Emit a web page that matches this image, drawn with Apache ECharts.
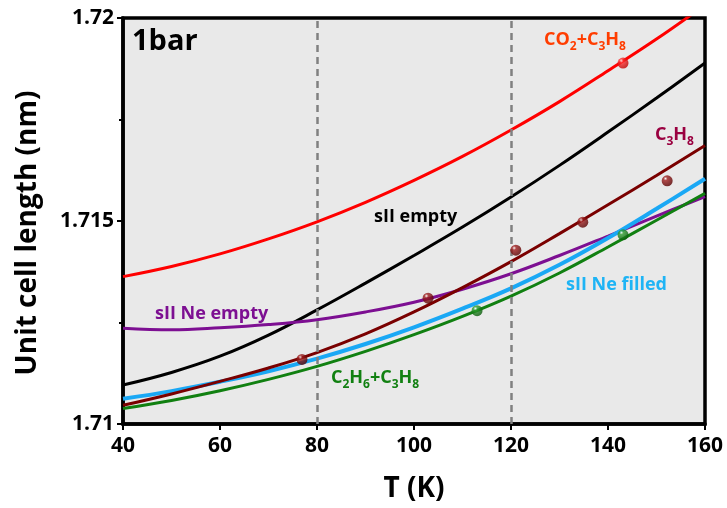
<!DOCTYPE html>
<html>
<head>
<meta charset="utf-8">
<script src="https://cdn.jsdelivr.net/npm/echarts@6/dist/echarts.min.js"></script>
<style>
  html, body { margin: 0; padding: 0; background: #fff; }
  #chart { width: 727px; height: 508px; }
</style>
</head>
<body>
<div id="chart"></div>
<script>
// temperatures (K) for the fitted curves
const T = [40, 50, 60, 70, 80, 90, 100, 110, 120, 130, 140, 150, 160]

// unit cell length (nm)
const co2C3h8 = [1.71363, 1.71388, 1.71419, 1.71456, 1.71498, 1.71546, 1.71600, 1.71659, 1.71724, 1.71794, 1.71870, 1.71948, 1.72032]
const sIIEmpty = [1.71096, 1.71127, 1.71167, 1.71219, 1.71281, 1.71347, 1.71415, 1.71485, 1.71559, 1.71637, 1.71719, 1.71803, 1.71889]
const c3h8 = [1.71046, 1.71074, 1.71105, 1.71138, 1.71176, 1.71222, 1.71276, 1.71336, 1.71400, 1.71469, 1.71540, 1.71612, 1.71686]
const neFilled = [1.71062, 1.71081, 1.71104, 1.71130, 1.71161, 1.71197, 1.71238, 1.71284, 1.71334, 1.71392, 1.71458, 1.71530, 1.71604]
const c2h6C3h8 = [1.71038, 1.71058, 1.71082, 1.71110, 1.71142, 1.71179, 1.71220, 1.71265, 1.71315, 1.71372, 1.71436, 1.71502, 1.71568]
const neEmpty = [1.71236, 1.71232, 1.71237, 1.71245, 1.71257, 1.71276, 1.71300, 1.71332, 1.71370, 1.71415, 1.71463, 1.71512, 1.71560]

// measured points
const c3h8PtsT = [76.9, 102.9, 121, 134.8, 152.2]
const c3h8PtsV = [1.71159, 1.7131, 1.71428, 1.71497, 1.71599]
const c2h6PtsT = [113, 143.1]
const c2h6PtsV = [1.71279, 1.71466]
const co2PtsT = [143.1]
const co2PtsV = [1.71889]

const guideT = [80, 120]
const yTicks = { '1.72': '1.72', '1.715': '1.715', '1.71': '1.71' }

const FONT = 'Open Sans'
const zip = (xs, ys) => xs.map((x, i) => [x, ys[i]])

const ball = (light, mid, dark) => new echarts.graphic.RadialGradient(0.35, 0.3, 0.7, [
  { offset: 0, color: light },
  { offset: 0.25, color: mid },
  { offset: 1, color: dark }
])

const line = (name, ys, color, width) => ({
  name: name,
  type: 'line',
  data: zip(T, ys),
  smooth: 0.4,
  symbol: 'none',
  clip: true,
  lineStyle: { color: color, width: width },
  z: 3
})

const dots = (name, xs, ys, fill) => ({
  name: name,
  type: 'scatter',
  data: zip(xs, ys),
  symbolSize: 11,
  itemStyle: { color: fill },
  z: 5
})

const tag = (x, y, text, color) => ({
  type: 'text',
  left: x,
  top: y,
  style: {
    text: text,
    fill: color,
    fontSize: 18,
    fontWeight: 'bold',
    fontFamily: FONT,
    rich: {
      n: { fontSize: 18, fontWeight: 'bold', fontFamily: FONT, fill: color },
      s: { fontSize: 12, fontWeight: 'bold', fontFamily: FONT, fill: color, verticalAlign: 'bottom', padding: [0, 0, -4, 0] }
    }
  },
  z: 10
})

const chart = echarts.init(document.getElementById('chart'))
chart.setOption({
  animation: false,
  backgroundColor: '#fff',
  grid: {
    left: 123, right: 22, top: 18, bottom: 74,
    show: true, backgroundColor: '#e9e9e9', borderColor: '#000', borderWidth: 3.5
  },
  xAxis: {
    type: 'value', min: 40, max: 160, interval: 20,
    name: 'T (K)', nameLocation: 'middle', nameGap: 51,
    nameTextStyle: { fontSize: 28, fontWeight: 'bold', fontFamily: FONT, color: '#000' },
    axisLine: { lineStyle: { color: '#000', width: 3.5 } },
    axisTick: { length: 6, lineStyle: { color: '#000', width: 2 } },
    axisLabel: { fontSize: 21, fontWeight: 'bold', fontFamily: FONT, color: '#000', margin: 12 },
    splitLine: { show: false }
  },
  yAxis: {
    type: 'value', min: 1.71, max: 1.72, interval: 0.005,
    axisLine: { lineStyle: { color: '#000', width: 3.5 } },
    axisTick: { length: 6, lineStyle: { color: '#000', width: 2 } },
    minorTick: { show: true, splitNumber: 2, length: 4, lineStyle: { color: '#000', width: 2 } },
    axisLabel: {
      fontSize: 21, fontWeight: 'bold', fontFamily: FONT, color: '#000', margin: 9,
      formatter: v => yTicks[String(+v.toFixed(3))] || ''
    },
    splitLine: { show: false }
  },
  series: [
    {
      name: 'guides',
      type: 'line',
      data: [],
      markLine: {
        silent: true,
        symbol: 'none',
        label: { show: false },
        lineStyle: { color: '#808080', type: [7, 5], width: 2.5 },
        data: guideT.map(t => ({ xAxis: t }))
      },
      z: 2
    },
    line('CO2+C3H8', co2C3h8, '#ff0000', 3),
    line('sII empty', sIIEmpty, '#000000', 3),
    line('sII Ne empty', neEmpty, '#7d0f92', 3),
    line('sII Ne filled', neFilled, '#1aa8f5', 4),
    line('C2H6+C3H8', c2h6C3h8, '#118011', 3),
    line('C3H8', c3h8, '#7a0000', 3),
    dots('C3H8 pts', c3h8PtsT, c3h8PtsV, ball('#ffffff', '#a02020', '#5a0000')),
    dots('C2H6 pts', c2h6PtsT, c2h6PtsV, ball('#ffffff', '#30a030', '#0a5a0a')),
    dots('CO2 pts', co2PtsT, co2PtsV, ball('#ffffff', '#ff3030', '#c00000'))
  ],
  graphic: [
    {
      type: 'text', x: 28, y: 233, rotation: Math.PI / 2, z: 10,
      style: {
        text: 'Unit cell length (nm)', fontSize: 28, fontWeight: 'bold', fontFamily: FONT,
        fill: '#000', align: 'center', verticalAlign: 'middle'
      }
    },
    {
      type: 'text', left: 132, top: 27, z: 10,
      style: { text: '1bar', fontSize: 29, fontWeight: 'bold', fontFamily: FONT, fill: '#000' }
    },
    tag(544, 31, '{n|CO}{s|2}{n|+C}{s|3}{n|H}{s|8}', '#ff3d00'),
    tag(655, 126, '{n|C}{s|3}{n|H}{s|8}', '#9a0040'),
    tag(374, 208, 'sII empty', '#000000'),
    tag(155, 305, 'sII Ne empty', '#7d0f92'),
    tag(566, 276, 'sII Ne filled', '#1eb4f5'),
    tag(331, 369, '{n|C}{s|2}{n|H}{s|6}{n|+C}{s|3}{n|H}{s|8}', '#118011')
  ]
})
</script>
</body>
</html>
